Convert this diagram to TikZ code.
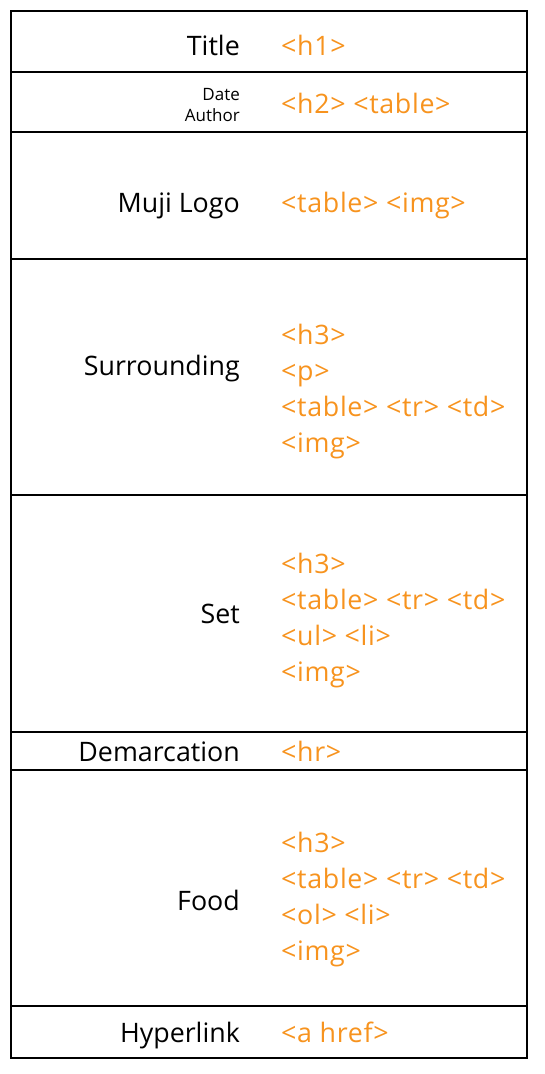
\documentclass[tikz,border=0pt]{standalone}
\usepackage{fontspec}
\setmainfont{Open Sans}
\newfontfamily\tagfont[LetterSpace=2.5]{Open Sans}
\definecolor{tagorange}{RGB}{247,147,30}
\begin{document}
\begin{tikzpicture}[x=1pt,y=-1pt,
  lbl/.style={anchor=base east,inner sep=0pt,font=\fontsize{26.8}{30}\selectfont,text=black},
  small/.style={anchor=base east,inner sep=0pt,font=\fontsize{17}{20}\selectfont,text=black},
  tag/.style={anchor=base west,inner sep=0pt,font=\tagfont\fontsize{26.8}{30}\selectfont,text=tagorange},
  rule/.style={line width=2pt,black}]
\useasboundingbox (0,0) rectangle (544,1074);
\draw[rule] (11,11) rectangle (527,1058);
\foreach \y in {72,132,259,495,732,770,1006} \draw[rule] (11,\y) -- (527,\y);
% labels
\node[lbl] (title) at (240,55) {Title};
\node[small] (date) at (240,100) {Date};
\node[small] (author) at (240,121) {Author};
\node[lbl] (logo) at (240,212) {Muji Logo};
\node[lbl] (surr) at (240,375) {Surrounding};
\node[lbl] (set) at (240,623) {Set};
\node[lbl] (demarc) at (240,761) {Demarcation};
\node[lbl] (food) at (240,910) {Food};
\node[lbl] (hyper) at (240,1042) {Hyperlink};
% tags
\node[tag] (t1) at (281,55) {<h1>};
\node[tag] (t2) at (281,113) {<h2> <table>};
\node[tag] (t3) at (281,212) {<table> <img>};
\node[tag] (s1) at (281,344) {<h3>};
\node[tag] (s2) at (281,380) {<p>};
\node[tag] (s3) at (281,416) {<table> <tr> <td>};
\node[tag] (s4) at (281,452) {<img>};
\node[tag] (e1) at (281,573) {<h3>};
\node[tag] (e2) at (281,609) {<table> <tr> <td>};
\node[tag] (e3) at (281,645) {<ul> <li>};
\node[tag] (e4) at (281,681) {<img>};
\node[tag] (hr) at (281,761) {<hr>};
\node[tag] (f1) at (281,852) {<h3>};
\node[tag] (f2) at (281,888) {<table> <tr> <td>};
\node[tag] (f3) at (281,924) {<ol> <li>};
\node[tag] (f4) at (281,960) {<img>};
\node[tag] (ah) at (281,1042) {<a href>};
\end{tikzpicture}
\end{document}
